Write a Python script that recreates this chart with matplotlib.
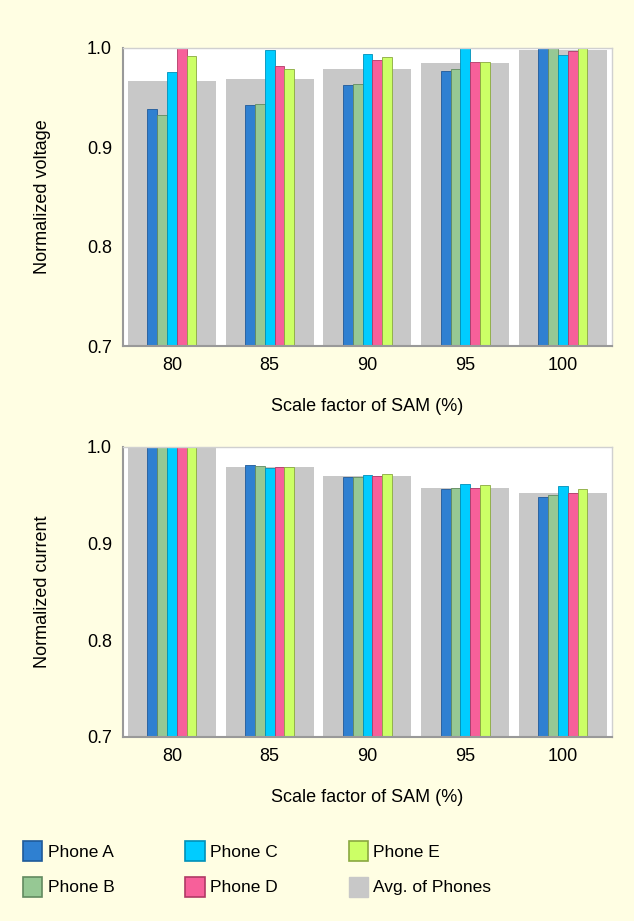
import numpy as np
import matplotlib.pyplot as plt
from matplotlib.patches import Patch

plt.rcParams['font.family'] = ['Liberation Sans', 'DejaVu Sans']

scales = ['80', '85', '90', '95', '100']
phones = ['Phone A', 'Phone B', 'Phone C', 'Phone D', 'Phone E']

# normalized voltage, one row per phone
voltage = [
    [0.939, 0.943, 0.963, 0.977, 1.000],
    [0.933, 0.944, 0.964, 0.979, 1.000],
    [0.976, 0.998, 0.994, 1.000, 0.993],
    [1.000, 0.982, 0.988, 0.986, 0.997],
    [0.992, 0.979, 0.991, 0.986, 1.000],
]
voltage_avg = [0.967, 0.969, 0.979, 0.985, 0.998]

# normalized current
current = [
    [1.000, 0.981, 0.969, 0.956, 0.948],
    [1.000, 0.980, 0.969, 0.957, 0.950],
    [1.000, 0.978, 0.971, 0.961, 0.959],
    [1.000, 0.979, 0.970, 0.957, 0.952],
    [1.000, 0.979, 0.972, 0.960, 0.956],
]
current_avg = [1.000, 0.979, 0.970, 0.957, 0.952]

colors = ['#2f80d1', '#96c894', '#00ccff', '#f7609a', '#ccff66']
edges = ['#1f5a99', '#628a60', '#0090b8', '#b03a66', '#8aa840']
avg_color = '#c8c8c8'
bg = '#fffee3'

fig = plt.figure(figsize=(6.34, 9.21), dpi=100, facecolor=bg)
ax1 = fig.add_axes([0.194, 0.624, 0.771, 0.324])
ax2 = fig.add_axes([0.194, 0.200, 0.771, 0.315])

x = np.arange(len(scales))
w = 0.1

def draw(ax, data, avg, ylabel):
    ax.bar(x, np.array(avg) - 0.7, 0.9, bottom=0.7, color=avg_color, zorder=1)
    for i, vals in enumerate(data):
        ax.bar(x + (i - 2) * w, np.array(vals) - 0.7, w, bottom=0.7,
               color=colors[i], edgecolor=edges[i], linewidth=0.6, zorder=2)
    ax.set_xlim(-0.5, len(scales) - 0.5)
    ax.set_ylim(0.7, 1.0)
    ax.set_yticks([0.7, 0.8, 0.9, 1.0])
    ax.set_yticklabels(['0.7', '0.8', '0.9', '1.0'])
    ax.set_xticks(x)
    ax.set_xticklabels(scales)
    ax.tick_params(length=0, labelsize=13, pad=8)
    ax.set_facecolor('white')
    for s in ['left', 'bottom']:
        ax.spines[s].set_color('#999999')
        ax.spines[s].set_linewidth(1.5)
    for s in ['top', 'right']:
        ax.spines[s].set_color('#d0d0d0')
        ax.spines[s].set_linewidth(1.0)
    ax.set_xlabel('Scale factor of SAM (%)', fontsize=13, labelpad=17)
    ax.set_ylabel(ylabel, fontsize=13, labelpad=26)

draw(ax1, voltage, voltage_avg, 'Normalized voltage')
draw(ax2, current, current_avg, 'Normalized current')

handles = [Patch(facecolor=colors[i], edgecolor=edges[i], linewidth=1.2) for i in range(5)]
handles.append(Patch(facecolor=avg_color, edgecolor=avg_color))
labels = phones + ['Avg. of Phones']
fig.legend(handles, labels, ncol=3, loc='upper left', bbox_to_anchor=(0.012, 0.104),
           frameon=False, fontsize=12.5, handlelength=1.1, handleheight=1.4,
           handletextpad=0.3, columnspacing=4.1, labelspacing=0.9)

fig.savefig('out.png', dpi=100, facecolor=bg)
